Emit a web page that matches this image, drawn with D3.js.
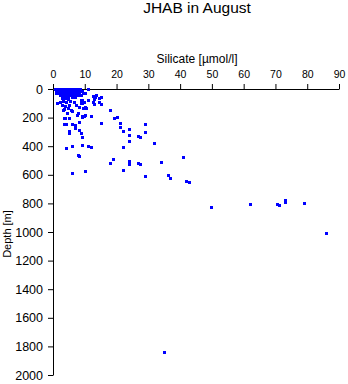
<!DOCTYPE html>
<html>
<head>
<meta charset="utf-8">
<script src="https://cdn.jsdelivr.net/npm/d3@7"></script>
<style>
  html, body { margin: 0; padding: 0; background: #fff; }
  svg { display: block; }
  text { font-family: "Liberation Sans", Arial, Helvetica, sans-serif; fill: #000; }
</style>
</head>
<body>
<svg id="chart" width="348" height="384"></svg>
<script>
// ---- data ----
const title = "JHAB in August";
const xLabel = "Silicate [\u00b5mol/l]";
const yLabel = "Depth [m]";
const xTicks = [0, 10, 20, 30, 40, 50, 60, 70, 80, 90];
const yTicks = [0, 200, 400, 600, 800, 1000, 1200, 1400, 1600, 1800, 2000];

// silicate [µmol/l] and depth [m] of each sample (parallel arrays)
const silicate = [
  0.8, 1.5, 2.3, 2.9, 3.7, 4.4, 5.0, 5.8, 6.3, 7.1, 7.9, 8.6, 11.3,
  1.0, 1.9, 2.6, 3.4, 4.1, 5.1, 5.7, 6.7, 7.3, 8.2, 9.2,
  1.1, 2.0, 2.9, 3.5, 4.5, 5.3, 6.1, 6.9, 7.7, 8.3, 9.6, 10.3,
  2.4, 3.3, 4.2, 4.8, 5.6, 6.6, 7.4, 8.0, 9.0,
  3.0, 3.9, 5.0, 6.1, 7.0, 12.6, 13.7, 14.7, 13.0, 13.3, 15.3,
  3.0, 4.0, 4.9, 3.3, 4.3, 5.5, 3.0, 4.0, 5.2, 3.6, 4.9, 5.8, 4.6,
  6.9, 7.4, 9.0, 9.2, 10.0, 12.6, 14.7, 8.4, 9.5, 10.5,
  7.7, 9.2, 10.0, 5.3, 3.7, 1.4, 2.5,
  9.3, 9.1, 11.2, 13.0, 15.3, 8.2, 10.1, 3.4, 6.1, 8.0, 18.1,
  9.3, 10.1, 12.1, 4.0, 19.2, 20.2, 15.3, 8.2, 3.5, 4.2, 6.1, 7.2,
  21.2, 21.2, 29.2, 7.0, 8.2, 9.1, 5.3, 5.3, 22.2, 24.1, 29.2, 24.1,
  9.2, 27.0, 27.4, 24.1, 32.0, 9.3, 6.1, 11.2, 12.1, 4.2, 22.2,
  7.9, 8.4, 19.1, 18.2, 24.1, 24.1, 27.0, 27.4, 34.2, 22.2, 10.2, 6.1,
  29.2, 36.2, 37.1, 41.2, 42.1, 43.1,
  50.0, 62.0, 70.8, 71.3, 73.1, 73.1, 79.1, 86.0, 35.2
];
const depth = [
  0, 0, 0, 0, 0, 0, 0, 0, 0, 0, 0, 0, 5,
  15, 15, 15, 15, 15, 15, 15, 15, 15, 15, 15,
  30, 30, 30, 30, 30, 30, 30, 30, 30, 30, 30, 30,
  45, 45, 45, 45, 45, 45, 45, 45, 45,
  58, 58, 58, 58, 58, 50, 45, 64, 73, 58, 58,
  66, 66, 73, 87, 94, 87, 115, 122, 115, 143, 136, 150, 173,
  92, 115, 80, 103, 96, 96, 96, 127, 138, 134,
  185, 197, 190, 208, 208, 103, 96,
  82, 98, 82, 105, 105, 128, 128, 152, 156, 168, 149,
  191, 187, 191, 205, 205, 198, 238, 233, 245, 250, 250, 257,
  243, 268, 250, 275, 291, 308, 296, 310, 296, 282, 301, 324,
  338, 334, 340, 366, 384, 396, 400, 400, 408, 415, 408,
  466, 474, 491, 522, 508, 526, 522, 530, 512, 568, 578, 589,
  610, 603, 624, 477, 645, 652,
  830, 811, 806, 812, 779, 791, 804, 1009, 1841
];

// ---- chart ----
const svg = d3.select("#chart");
svg.append("rect").attr("width", 348).attr("height", 384).attr("fill", "#fff");

const x = d3.scaleLinear().domain([0, 90]).range([53, 339]);
const y = d3.scaleLinear().domain([0, 2000]).range([89, 375]);

// title and axis labels
svg.append("text").attr("x", 197).attr("y", 13).attr("text-anchor", "middle")
  .style("font-size", "15.5px").text(title);
svg.append("text").attr("x", 197).attr("y", 63).attr("text-anchor", "middle")
  .style("font-size", "12px").text(xLabel);
svg.append("text").attr("transform", "translate(11,234) rotate(-90)")
  .attr("text-anchor", "middle").style("font-size", "11px").text(yLabel);

// axes
const gx = svg.append("g").attr("transform", `translate(0,${y(0)})`)
  .call(d3.axisTop(x).tickValues(xTicks).tickSize(5).tickSizeOuter(0).tickPadding(6).tickFormat(d3.format("d")));
gx.selectAll("text").style("font-size", "10.5px").attr("font-family", null);

const gy = svg.append("g").attr("transform", `translate(${x(0)},0)`)
  .call(d3.axisLeft(y).tickValues(yTicks).tickSize(5).tickSizeOuter(0).tickPadding(5).tickFormat(d3.format("d")));
gy.selectAll("text").style("font-size", "12.5px").attr("font-family", null);

svg.selectAll(".domain, .tick line").attr("stroke", "#000").attr("stroke-width", 1);

// points
const pts = silicate.map((s, i) => ({ s, d: depth[i] }));
svg.append("g").selectAll("rect").data(pts).join("rect")
  .attr("x", p => Math.round(x(p.s) - 1.5))
  .attr("y", p => Math.round(y(p.d) - 1.5))
  .attr("width", 3).attr("height", 3)
  .attr("fill", "#0000ff")
  .attr("shape-rendering", "crispEdges");
</script>
</body>
</html>
